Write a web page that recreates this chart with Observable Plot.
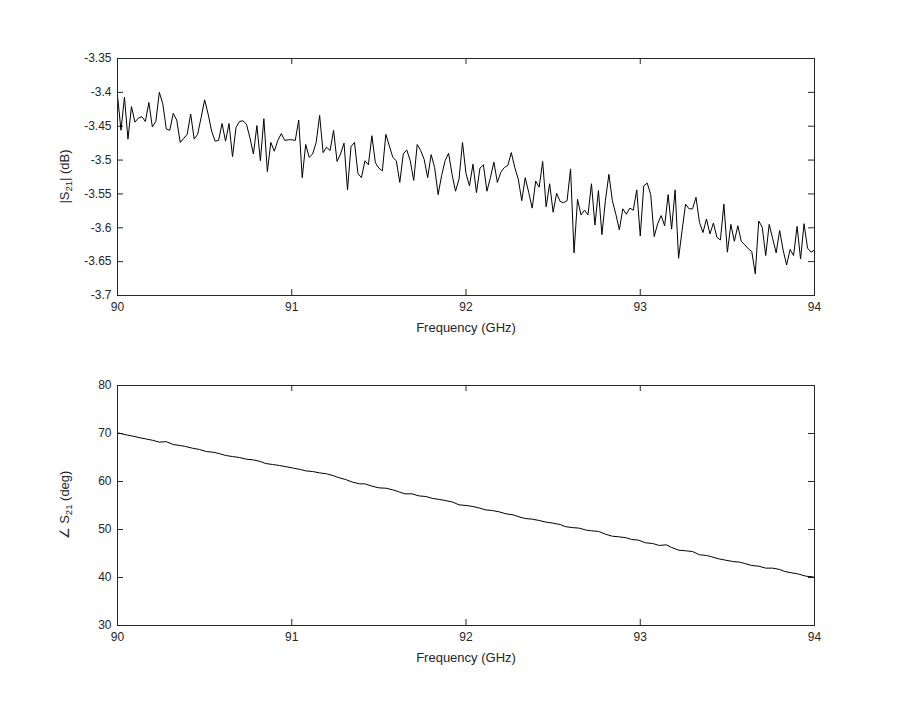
<!DOCTYPE html>
<html><head><meta charset="utf-8">
<script src="https://cdn.jsdelivr.net/npm/d3@7"></script>
<script src="https://cdn.jsdelivr.net/npm/@observablehq/plot@0.6"></script>
<style>body{margin:0;background:#fff;} svg{display:block;}</style>
</head><body><div id="chart"></div>
<script>
// Frequency sweep (GHz): 201 points, 90 to 94 GHz
const sweepStart = 90, sweepStep = 0.02, sweepCount = 201;

// |S21| in dB, one value per sweep point
const magDb = [
-3.405,-3.456,-3.407,-3.469,-3.421,-3.444,-3.438,-3.436,-3.443,-3.415,
-3.451,-3.443,-3.400,-3.417,-3.454,-3.456,-3.431,-3.441,-3.474,-3.468,
-3.462,-3.432,-3.469,-3.462,-3.437,-3.411,-3.432,-3.457,-3.472,-3.471,
-3.446,-3.472,-3.446,-3.495,-3.452,-3.443,-3.442,-3.447,-3.467,-3.491,
-3.449,-3.501,-3.439,-3.517,-3.474,-3.487,-3.471,-3.461,-3.471,-3.470,
-3.470,-3.471,-3.441,-3.526,-3.477,-3.496,-3.491,-3.474,-3.434,-3.489,
-3.481,-3.486,-3.456,-3.502,-3.491,-3.475,-3.544,-3.480,-3.474,-3.520,
-3.526,-3.501,-3.507,-3.464,-3.504,-3.512,-3.516,-3.462,-3.479,-3.496,
-3.501,-3.533,-3.491,-3.485,-3.501,-3.530,-3.477,-3.486,-3.499,-3.526,
-3.492,-3.511,-3.551,-3.523,-3.501,-3.490,-3.521,-3.546,-3.528,-3.474,
-3.520,-3.538,-3.506,-3.548,-3.512,-3.507,-3.546,-3.526,-3.503,-3.533,
-3.518,-3.511,-3.508,-3.489,-3.511,-3.528,-3.560,-3.526,-3.548,-3.571,
-3.531,-3.540,-3.502,-3.569,-3.535,-3.577,-3.549,-3.561,-3.563,-3.560,
-3.513,-3.637,-3.558,-3.581,-3.574,-3.581,-3.535,-3.596,-3.545,-3.610,
-3.560,-3.521,-3.560,-3.580,-3.603,-3.572,-3.580,-3.571,-3.574,-3.544,
-3.612,-3.538,-3.534,-3.551,-3.613,-3.594,-3.582,-3.597,-3.551,-3.602,
-3.544,-3.645,-3.604,-3.565,-3.572,-3.572,-3.555,-3.592,-3.607,-3.587,
-3.609,-3.593,-3.614,-3.618,-3.565,-3.636,-3.595,-3.620,-3.597,-3.620,
-3.625,-3.631,-3.635,-3.668,-3.590,-3.599,-3.641,-3.595,-3.616,-3.637,
-3.604,-3.633,-3.655,-3.632,-3.641,-3.598,-3.646,-3.594,-3.630,-3.636,
-3.633
];

// Phase of S21 (deg)
const phaseFreq = [
90.00,90.05,90.09,90.13,90.16,90.20,90.24,90.28,90.32,90.36,
90.39,90.43,90.47,90.51,90.55,90.59,90.62,90.66,90.70,90.74,
90.78,90.82,90.85,90.89,90.93,90.97,91.01,91.05,91.08,91.12,
91.16,91.20,91.24,91.27,91.31,91.35,91.39,91.42,91.46,91.50,
91.54,91.58,91.62,91.65,91.69,91.73,91.77,91.81,91.85,91.88,
91.92,91.96,92.00,92.04,92.08,92.11,92.15,92.19,92.23,92.27,
92.31,92.34,92.38,92.42,92.46,92.50,92.54,92.57,92.61,92.65,
92.69,92.72,92.76,92.80,92.84,92.88,92.92,92.95,92.99,93.03,
93.07,93.11,93.15,93.18,93.22,93.26,93.30,93.34,93.38,93.41,
93.45,93.49,93.53,93.57,93.60,93.64,93.68,93.72,93.76,93.80,
93.83,93.87,93.91,93.95,93.99,94.00
];
const phaseDeg = [
70.14,69.72,69.44,69.10,68.89,68.60,68.20,68.30,67.70,67.50,
67.30,66.94,66.67,66.25,66.10,65.76,65.42,65.20,65.00,64.65,
64.50,64.17,63.75,63.54,63.33,63.06,62.78,62.50,62.22,62.08,
61.80,61.60,61.20,60.80,60.40,59.86,59.51,59.51,59.03,58.68,
58.60,58.26,57.78,57.43,57.43,57.00,56.87,56.46,56.25,56.04,
55.76,55.14,55.00,54.79,54.44,54.10,53.96,53.68,53.26,53.06,
52.57,52.29,52.15,51.88,51.53,51.32,51.04,50.60,50.40,50.28,
49.86,49.73,49.60,49.03,48.60,48.47,48.27,47.92,47.78,47.23,
47.09,46.67,46.81,46.25,45.70,45.56,45.42,44.73,44.59,44.31,
43.89,43.61,43.34,43.20,42.92,42.50,42.36,41.95,41.95,41.67,
41.25,40.97,40.70,40.28,40.14,40.00
];

// Tick values
const xTicks = [90, 91, 92, 93, 94];
const magTicks = [-3.7, -3.65, -3.6, -3.55, -3.5, -3.45, -3.4, -3.35];
const phaseTicks = [30, 40, 50, 60, 70, 80];

const magData = magDb.map((v, i) => ({f: sweepStart + i * sweepStep, v}));
const phaseData = phaseFreq.map((f, i) => ({f, v: phaseDeg[i]}));

const W = 899;
const FONT = "'Liberation Sans', Arial, Helvetica, sans-serif";
const INK = "#262626";

function panel({data, yDomain, yTicks, height, marginTop, marginBottom, yLabel}) {
  const ml = 117, mr = 85, tick = 6;
  const fw = W - ml - mr, fh = height - marginTop - marginBottom;
  const svg = Plot.plot({
    width: W, height, marginLeft: ml, marginRight: mr, marginTop, marginBottom,
    style: {fontFamily: FONT, fontSize: "12px", color: INK, background: "white", overflow: "visible"},
    x: {domain: [90, 94]},
    y: {domain: yDomain},
    marks: [
      Plot.axisX({ticks: xTicks, tickSize: 0, tickPadding: 7, tickFormat: d => String(d), label: null, fill: INK}),
      Plot.axisY({ticks: yTicks, tickSize: 0, tickPadding: 6, tickFormat: d => String(+d.toFixed(2)), label: null, fill: INK}),
      Plot.ruleX(xTicks, {x: d => d, insetTop: fh - tick, stroke: INK}),
      Plot.ruleX(xTicks, {x: d => d, insetBottom: fh - tick, stroke: INK}),
      Plot.ruleY(yTicks, {y: d => d, insetRight: fw - tick, stroke: INK}),
      Plot.ruleY(yTicks, {y: d => d, insetLeft: fw - tick, stroke: INK}),
      Plot.line(data, {x: "f", y: "v", stroke: "black", strokeWidth: 1}),
      Plot.frame({stroke: INK}),
      Plot.text(["Frequency (GHz)"], {frameAnchor: "bottom", dy: 32, lineAnchor: "middle", fontSize: 13, fill: INK})
    ]
  });
  const t = d3.select(svg).append("text")
    .attr("transform", `translate(66,${marginTop + fh / 2}) rotate(-90)`)
    .attr("text-anchor", "middle").attr("dominant-baseline", "middle")
    .attr("fill", INK).attr("font-size", 13).attr("font-family", FONT);
  t.append("tspan").text(yLabel[0]);
  t.append("tspan").attr("font-size", 9.5).attr("dy", 3).text(yLabel[1]);
  t.append("tspan").attr("dy", -3).text(yLabel[2]);
  return svg;
}

const root = document.getElementById("chart");
root.append(panel({data: magData, yDomain: [-3.7, -3.35], yTicks: magTicks,
  height: 350, marginTop: 58, marginBottom: 55, yLabel: ["|S", "21", "| (dB)"]}));
root.append(panel({data: phaseData, yDomain: [30, 80], yTicks: phaseTicks,
  height: 351, marginTop: 35, marginBottom: 76, yLabel: ["\u2220 S", "21", " (deg)"]}));
</script>
</body></html>
